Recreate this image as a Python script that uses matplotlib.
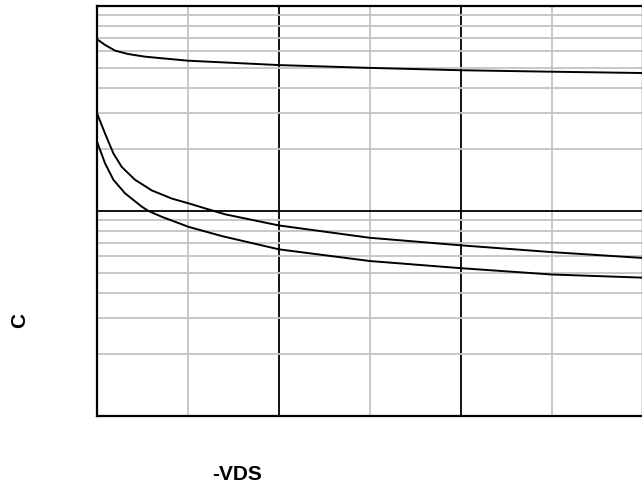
import matplotlib
matplotlib.use("Agg")
import matplotlib.pyplot as plt
from matplotlib.ticker import MultipleLocator, LogLocator, NullFormatter

# Data (x: -VDS, y: capacitance, log scale)
ciss_v = [0, 0.44, 0.99, 1.71, 2.64, 3.56, 5.0, 10, 15, 20, 25, 30]
ciss = [689, 646, 606, 583, 566, 556, 541, 515, 499, 486, 478, 471]

coss_v = [0, 0.44, 0.90, 1.36, 2.09, 3.01, 4.11, 5.03, 5.94, 7.05, 10, 15, 20, 25, 30]
coss = [300, 239, 191, 164, 142, 126, 115, 109, 103, 96.3, 85, 74, 68, 63, 59]

crss_v = [0, 0.44, 0.90, 1.54, 2.46, 2.83, 3.56, 5.03, 6.87, 10, 15, 20, 25, 30]
crss = [218, 171, 142, 122, 105, 100, 93.7, 83.7, 75.4, 65, 57, 52.6, 49, 47.3]

y_limits = (10, 1000)
x_limits = (0, 30)

plt.rcParams['font.family'] = ['Liberation Sans', 'DejaVu Sans']

fig = plt.figure(figsize=(6.42, 4.91), dpi=100)
ax = fig.add_axes([97/642, 75/491, 546/642, 410/491])

ax.set_yscale('log')
ax.set_xlim(*x_limits)
ax.set_ylim(*y_limits)

ax.xaxis.set_major_locator(MultipleLocator(10))
ax.xaxis.set_minor_locator(MultipleLocator(5))
ax.yaxis.set_major_locator(LogLocator(base=10))
ax.yaxis.set_minor_locator(LogLocator(base=10, subs=range(2, 10)))

ax.grid(which='minor', color='#c4c4c4', linewidth=1.3)
ax.grid(which='major', color='black', linewidth=1.3)
ax.set_axisbelow(True)

ax.tick_params(which='both', length=0, labelbottom=False, labelleft=False)
for axis in (ax.xaxis, ax.yaxis):
    axis.set_major_formatter(NullFormatter())
    axis.set_minor_formatter(NullFormatter())

for s in ax.spines.values():
    s.set_linewidth(1.6)
    s.set_color('black')

for xs, ys in ((ciss_v, ciss), (coss_v, coss), (crss_v, crss)):
    ax.plot(xs, ys, color='black', linewidth=1.4, solid_joinstyle='round')

fig.text(20/642, 1 - 320/491, 'C', rotation=90, ha='center', va='center',
         fontsize=15, fontweight='bold')
fig.text(237/642, 1 - 474/491, '-VDS', ha='center', va='center',
         fontsize=15, fontweight='bold')

fig.savefig('out.png', dpi=100)
